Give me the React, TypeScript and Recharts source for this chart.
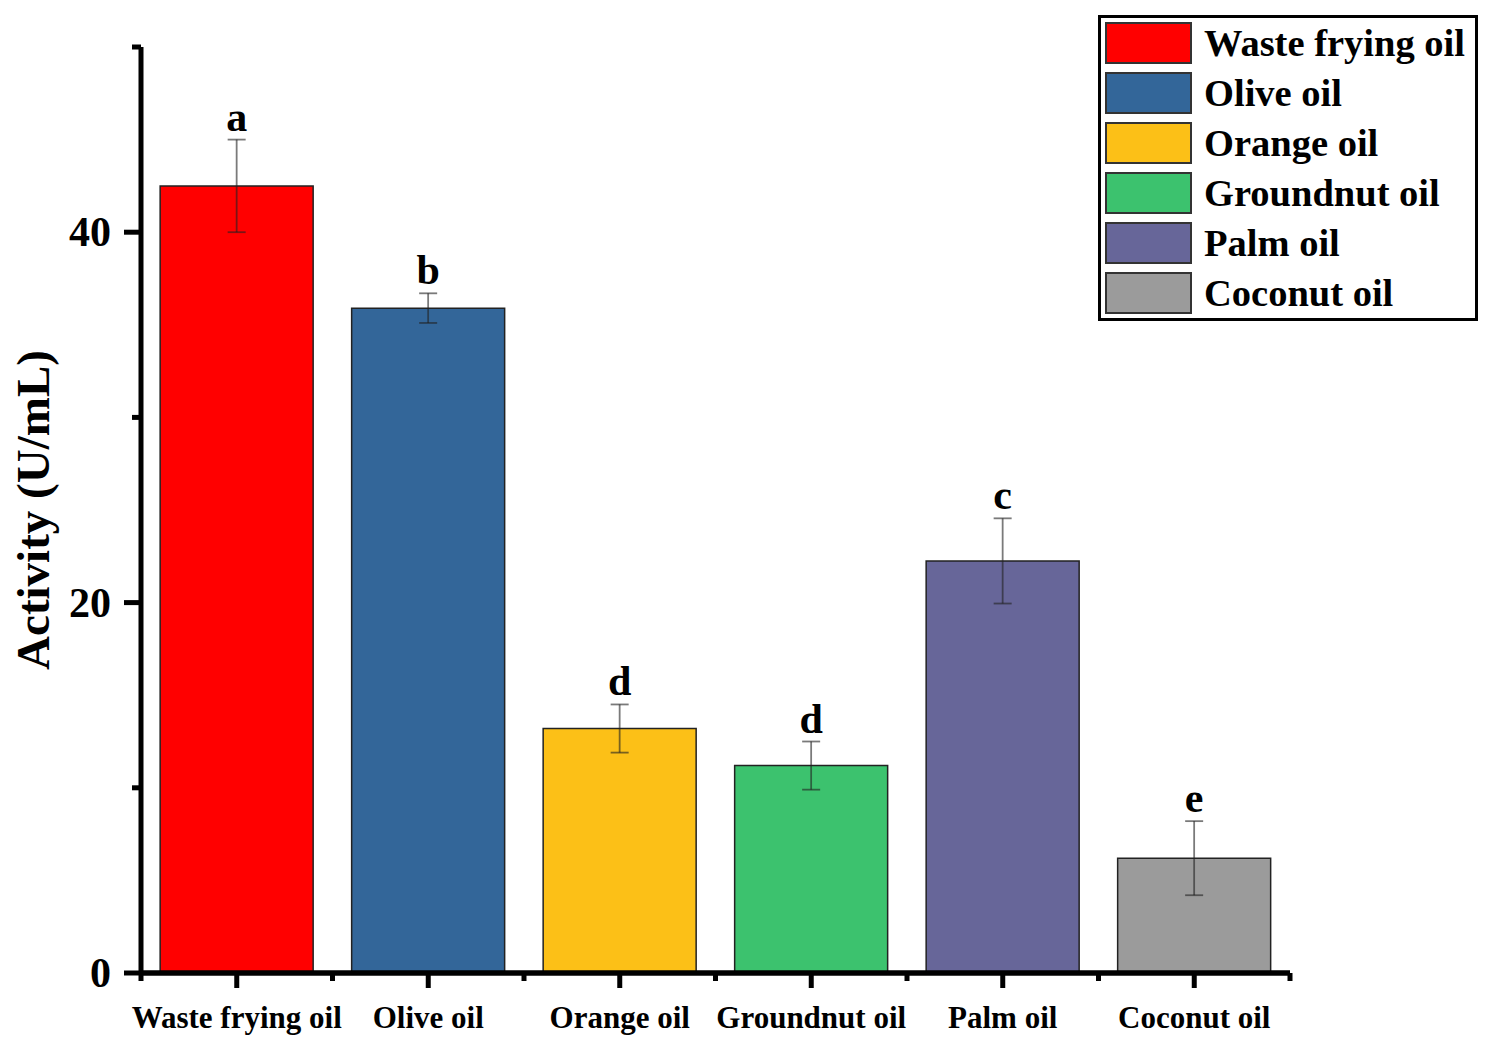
import React from 'react';
import { BarChart, Bar, XAxis, YAxis, ErrorBar, Cell, LabelList, Legend, Label } from 'recharts';

const oils = ['Waste frying oil', 'Olive oil', 'Orange oil', 'Groundnut oil', 'Palm oil', 'Coconut oil'];
const activity = [42.5, 35.9, 13.2, 11.2, 22.25, 6.2];
const sd = [2.5, 0.8, 1.3, 1.3, 2.3, 2.0];
const letters = ['a', 'b', 'd', 'd', 'c', 'e'];
const colors = ['#FF0000', '#336699', '#FCC017', '#3CC26E', '#676699', '#9B9B9B'];
const yTicks = [0, 10, 20, 30, 40, 50];
const yLabelled = [0, 20, 40];

const SERIF = '"Liberation Serif", "Times New Roman", serif';
const W = 1493;
const H = 1052;
const MARGIN = { top: 47, right: 203, bottom: 0, left: 0 };
const Y_AXIS_W = 141;
const BAND = (W - MARGIN.right - MARGIN.left - Y_AXIS_W) / oils.length;

const data = oils.map((oil, i) => ({ oil, activity: activity[i], sd: sd[i], letter: letters[i] }));

const YTick = ({ x, y, payload }: any) => {
  const major = yLabelled.includes(payload.value);
  return (
    <g>
      <line x1={x - (major ? 17 : 9)} x2={x} y1={y} y2={y} stroke="#000" strokeWidth={5} />
      {major && (
        <text x={x - 30} y={y + 14} textAnchor="end" fontSize={42} fontWeight="bold" fontFamily={SERIF} fill="#000">
          {payload.value}
        </text>
      )}
    </g>
  );
};

const XTick = ({ x, y, payload, index }: any) => (
  <g>
    <line x1={x} x2={x} y1={y} y2={y + 15} stroke="#000" strokeWidth={5} />
    <line x1={x - BAND / 2} x2={x - BAND / 2} y1={y} y2={y + 8} stroke="#000" strokeWidth={5} />
    {index === oils.length - 1 && (
      <line x1={x + BAND / 2} x2={x + BAND / 2} y1={y} y2={y + 8} stroke="#000" strokeWidth={5} />
    )}
    <text x={x} y={y + 55} textAnchor="middle" fontSize={31} fontWeight="bold" fontFamily={SERIF} fill="#000">
      {payload.value}
    </text>
  </g>
);

const LetterLabel = ({ x, y, width, height, index }: any) => {
  const pxPerUnit = height / activity[index];
  const top = y - sd[index] * pxPerUnit;
  return (
    <text x={x + width / 2} y={top - 9} textAnchor="middle" fontSize={42} fontWeight="bold" fontFamily={SERIF} fill="#000">
      {letters[index]}
    </text>
  );
};

const YTitle = (props: any) => {
  const vb = props.viewBox || { x: 0, y: MARGIN.top, width: Y_AXIS_W, height: 926 };
  const cx = vb.x + 33;
  const cy = vb.y + vb.height / 2;
  return (
    <text
      x={cx}
      y={cy}
      transform={`rotate(-90 ${cx} ${cy})`}
      textAnchor="middle"
      dominantBaseline="central"
      fontSize={47}
      fontWeight="bold"
      fontFamily={SERIF}
      fill="#000"
    >
      Activity (U/mL)
    </text>
  );
};

const LegendBox = () => (
  <div
    style={{
      border: '3px solid #000',
      padding: 4,
      background: '#fff',
      fontFamily: SERIF,
      boxSizing: 'border-box',
      width: 380,
    }}
  >
    {oils.map((oil, i) => (
      <div key={oil} style={{ display: 'flex', alignItems: 'center', height: 42, marginTop: i === 0 ? 0 : 8 }}>
        <div
          style={{
            width: 87,
            height: 42,
            boxSizing: 'border-box',
            border: '2px solid #333',
            background: colors[i],
            flex: 'none',
          }}
        />
        <span style={{ marginLeft: 12, fontSize: 38.5, fontWeight: 'bold', color: '#000', whiteSpace: 'nowrap', lineHeight: '42px' }}>
          {oil}
        </span>
      </div>
    ))}
  </div>
);

export default function App() {
  return (
    <div style={{ position: 'relative', width: W, height: H, background: '#fff' }}>
      <style>{'body{margin:0;background:#fff}'}</style>
      <BarChart width={W} height={H} data={data} margin={MARGIN} barCategoryGap="10%">
        <XAxis
          dataKey="oil"
          height={79}
          interval={0}
          tickSize={0}
          tickMargin={0}
          tick={<XTick />}
          axisLine={{ stroke: '#000', strokeWidth: 5.5 }}
        />
        <YAxis
          width={Y_AXIS_W}
          domain={[0, 50]}
          ticks={yTicks}
          interval={0}
          tickSize={0}
          tickMargin={0}
          tick={<YTick />}
          axisLine={{ stroke: '#000', strokeWidth: 5 }}
        >
          <Label content={<YTitle />} />
        </YAxis>
        <Legend
          layout="horizontal"
          verticalAlign="middle"
          align="center"
          content={<LegendBox />}
          wrapperStyle={{ position: 'absolute', left: 1098, top: 15, width: 380, height: 303 }}
        />
        <Bar dataKey="activity" stroke="#222" strokeWidth={1.5} isAnimationActive={false}>
          {data.map((d, i) => (
            <Cell key={d.oil} fill={colors[i]} />
          ))}
          <ErrorBar dataKey="sd" width={9} stroke="#222" strokeOpacity={0.6} strokeWidth={1.8} isAnimationActive={false} />
          <LabelList dataKey="letter" content={<LetterLabel />} />
        </Bar>
      </BarChart>
    </div>
  );
}
